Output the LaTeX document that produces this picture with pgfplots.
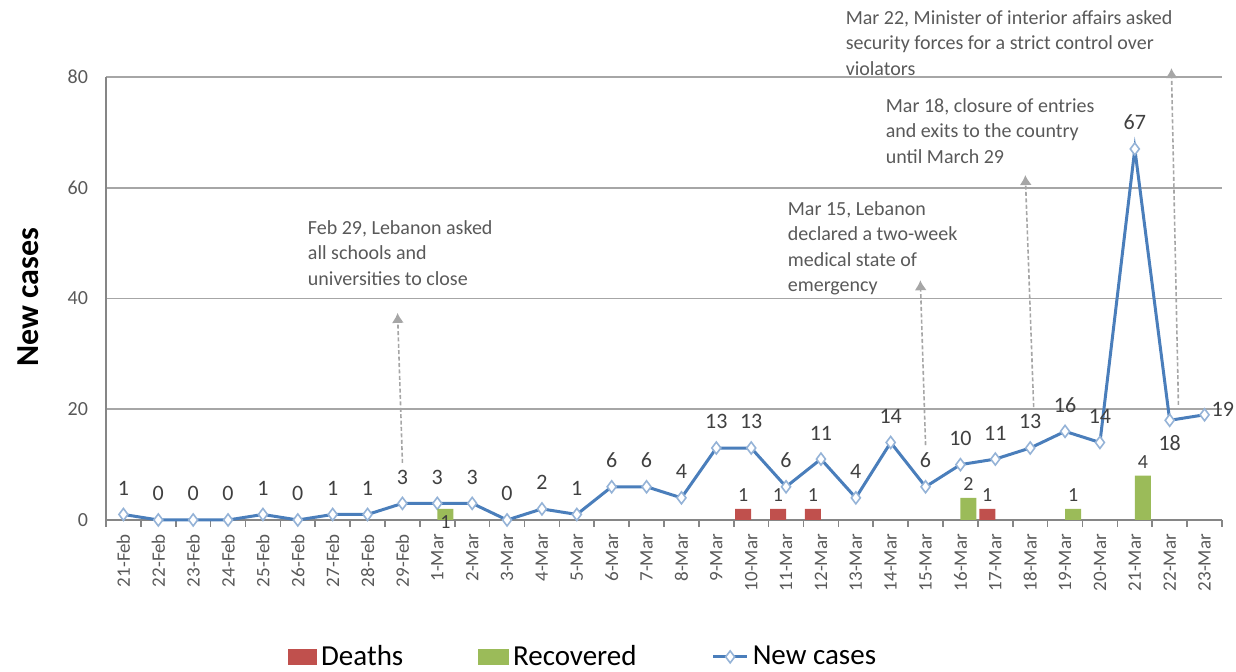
\documentclass[border=0pt]{standalone}
\usepackage{pgfplots}
\pgfplotsset{compat=1.18}
\usepackage{pgfplotstable}
\usepackage{fontspec}
\setmainfont{Carlito}
\usetikzlibrary{arrows.meta}
\definecolor{deathc}{HTML}{C0504D}
\definecolor{recc}{HTML}{9BBB59}
\definecolor{linec}{HTML}{4A7EBB}
\definecolor{markc}{HTML}{95B3D7}
\definecolor{gridc}{HTML}{A6A6A6}
\definecolor{axisc}{HTML}{868686}
\definecolor{tickc}{HTML}{595959}
\definecolor{labc}{HTML}{404040}
\definecolor{annc}{HTML}{595959}
\definecolor{arrowc}{HTML}{A6A6A6}
\pgfplotsset{/pgf/number format/assume math mode=true}

% day index (0 = 21-Feb) and daily new cases
\pgfplotstableread{
x y
0 1
1 0
2 0
3 0
4 1
5 0
6 1
7 1
8 3
9 3
10 3
11 0
12 2
13 1
14 6
15 6
16 4
17 13
18 13
19 6
20 11
21 4
22 14
23 6
24 10
25 11
26 13
27 16
28 14
29 67
30 18
31 19
}\newcases

% deaths (x = day index, xl = bar centre)
\pgfplotstableread{
x xl y
18 17.77 1
19 18.77 1
20 19.77 1
25 24.77 1
}\deaths

% recovered
\pgfplotstableread{
x xl y
9 9.23 1
24 24.23 2
27 27.23 1
29 29.23 4
}\recovered

\begin{document}
\begin{tikzpicture}
\path[use as bounding box] (-53pt,-76pt) rectangle (565pt,260pt);
\begin{axis}[
  scale only axis, width=558pt, height=221.5pt,
  xmin=-0.5, xmax=31.5, ymin=0, ymax=80, clip=false,
  axis x line*=bottom, axis y line*=left,
  axis line style={draw=axisc, line width=0.8pt},
  ytick={0,20,...,80}, ymajorgrids,
  grid style={draw=gridc, line width=0.8pt},
  xtick={0,...,31},
  xticklabels={21-Feb,22-Feb,23-Feb,24-Feb,25-Feb,26-Feb,27-Feb,28-Feb,29-Feb,1-Mar,2-Mar,3-Mar,4-Mar,5-Mar,6-Mar,7-Mar,8-Mar,9-Mar,10-Mar,11-Mar,12-Mar,13-Mar,14-Mar,15-Mar,16-Mar,17-Mar,18-Mar,19-Mar,20-Mar,21-Mar,22-Mar,23-Mar},
  minor xtick={-0.5,0.5,...,31.5},
  major tick length=0pt, minor tick length=3.5pt, tick align=outside,
  tick style={draw=axisc, line width=0.8pt},
  yticklabel style={font=\fontsize{10}{12}\selectfont, text=tickc, xshift=-5.5pt},
  xticklabel style={font=\fontsize{9.5}{11}\selectfont, text=tickc, rotate=90, anchor=east, xshift=-3.5pt},
  ylabel={New cases},
  every axis y label/.style={at={(axis description cs:-0.0699,0.503)}, rotate=90, anchor=center, font=\fontsize{16}{19}\selectfont\bfseries},
  legend style={at={(axis description cs:0.4285,-0.309)}, anchor=center, draw=none, fill=none,
    legend columns=-1, font=\fontsize{14.5}{17}\selectfont,
    /tikz/every even column/.append style={column sep=35.5pt}},
  lab/.style={forget plot, draw=none, mark=none, nodes near coords, point meta=y,
    every node near coord/.append style={font=\fontsize{11}{13}\selectfont, text=labc}},
]
\addlegendimage{legend image code/.code={\fill[deathc] (0pt,-3.75pt) rectangle (14pt,3.75pt);}}
\addlegendentry{Deaths}
\addlegendimage{legend image code/.code={\fill[recc] (0pt,-3.75pt) rectangle (15pt,3.75pt);}}
\addlegendentry{Recovered}
\addlegendimage{linec, line width=1.5pt, mark=diamond*, mark size=3pt, mark options={fill=white, draw=markc, line width=0.8pt}}
\addlegendentry{New cases}
\addplot[forget plot, linec, line width=1.5pt, mark=diamond*, mark size=3pt,
  mark options={fill=white, draw=markc, line width=0.8pt}]
  table[x=x,y=y] {\newcases};
% value labels
\addplot[lab, skip coords between index={30}{32},
  every node near coord/.append style={anchor=south, yshift=6pt}] table[x=x,y=y] {\newcases};
\addplot[lab, skip coords between index={0}{30}, skip coords between index={31}{32},
  every node near coord/.append style={anchor=north, yshift=-4pt}] table[x=x,y=y] {\newcases};
\addplot[lab, skip coords between index={0}{31},
  every node near coord/.append style={anchor=west, yshift=2.5pt}] table[x=x,y=y] {\newcases};

% annotation arrows
\draw[dash pattern=on 2pt off 1.2pt, draw=arrowc, line width=0.8pt, -{Latex[length=5pt,width=6pt]}] (axis cs:8.0,10.3) -- (axis cs:7.86,37.4);
\draw[dash pattern=on 2pt off 1.2pt, draw=arrowc, line width=0.8pt, -{Latex[length=5pt,width=6pt]}] (axis cs:23.0,13.5) -- (axis cs:22.85,43.3);
\draw[dash pattern=on 2pt off 1.2pt, draw=arrowc, line width=0.8pt, -{Latex[length=5pt,width=6pt]}] (axis cs:26.1,20.4) -- (axis cs:25.86,62.3);
\draw[dash pattern=on 2pt off 1.2pt, draw=arrowc, line width=0.8pt, -{Latex[length=5pt,width=6pt]}] (axis cs:30.25,20.8) -- (axis cs:30.05,81.6);

\node[anchor=north west, inner sep=0pt, align=left, font=\fontsize{10}{12.75}\selectfont, text=annc] at (axis cs:5.28,54.2) {Feb 29, Lebanon asked\\all schools and\\universities to close};
\node[anchor=north west, inner sep=0pt, align=left, font=\fontsize{10}{12.75}\selectfont, text=annc] at (axis cs:19.04,57.6) {Mar 15, Lebanon\\declared a two-week\\medical state of\\emergency};
\node[anchor=north west, inner sep=0pt, align=left, font=\fontsize{10}{12.75}\selectfont, text=annc] at (axis cs:21.85,76.2) {Mar 18, closure of entries\\and exits to the country\\until March 29};
\node[anchor=north west, inner sep=0pt, align=left, font=\fontsize{10}{12.75}\selectfont, text=annc] at (axis cs:20.7,92.1) {Mar 22, Minister of interior affairs asked\\security forces for a strict control over\\violators};
\end{axis}

\begin{axis}[
  scale only axis, width=558pt, height=221.5pt,
  xmin=-0.5, xmax=31.5, ymin=0, ymax=40, clip=false, hide axis,
  blab/.style={draw=none, mark=none, nodes near coords, point meta=y,
    every node near coord/.append style={font=\fontsize{10}{12}\selectfont, text=labc}},
]
\addplot[ybar, bar width=0.46, bar shift=-0.23, fill=deathc, draw=none] table[x=x,y=y] {\deaths};
\addplot[ybar, bar width=0.46, bar shift=0.23, fill=recc, draw=none] table[x=x,y=y] {\recovered};
\addplot[blab, every node near coord/.append style={anchor=south}] table[x=xl,y=y] {\deaths};
\addplot[blab, skip coords between index={0}{1}, every node near coord/.append style={anchor=south}] table[x=xl,y=y] {\recovered};
\addplot[blab, skip coords between index={1}{4}, every node near coord/.append style={anchor=north}] table[x=xl,y=y] {\recovered};
\end{axis}
\end{tikzpicture}
\end{document}
